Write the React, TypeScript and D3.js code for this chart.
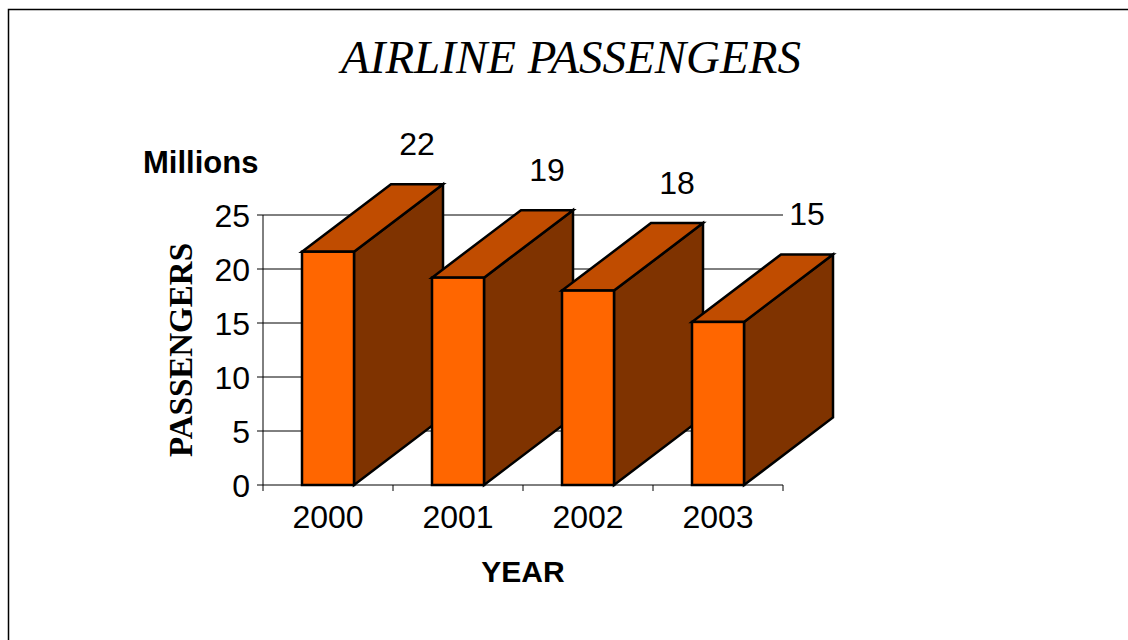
import React from "react";
import * as d3 from "d3";

const years = ["2000", "2001", "2002", "2003"];
const passengers = [21.6, 19.2, 18.0, 15.1];
const valueLabels = ["22", "19", "18", "15"];
const yTicks = [0, 5, 10, 15, 20, 25];

const W = 1128;
const H = 640;
const sans = "'Liberation Sans', Arial, sans-serif";
const serif = "'Liberation Serif', 'Times New Roman', serif";

const FRONT = "#FF6600";
const TOP = "#C04C00";
const SIDE = "#7F3300";

export default function App() {
  const x = d3.scaleBand<string>().domain(years).range([263, 783]).padding(0);
  const y = d3.scaleLinear().domain([0, 25]).range([485, 215]);
  const bw = x.bandwidth();
  const dx = 89;
  const dy = -67.5;
  const pts = (arr: [number, number][]) => arr.map((p) => p.join(",")).join(" ");

  return (
    <svg
      width={W}
      height={H}
      style={{ position: "absolute", left: 0, top: 0, background: "#fff" }}
    >
      <rect x={8.5} y={9.5} width={W} height={H} fill="#fff" stroke="#000" strokeWidth={1.5} />

      <text
        x={571}
        y={73}
        textAnchor="middle"
        fontFamily={serif}
        fontStyle="italic"
        fontSize={47}
      >
        AIRLINE PASSENGERS
      </text>

      <text x={143} y={173} fontFamily={sans} fontWeight="bold" fontSize={31}>
        Millions
      </text>

      <text
        transform="translate(192,350) rotate(-90)"
        textAnchor="middle"
        fontFamily={serif}
        fontWeight="bold"
        fontSize={33}
      >
        PASSENGERS
      </text>

      {/* gridlines */}
      {yTicks.filter((t) => t > 0).map((t) => (
        <line key={"g" + t} x1={263} x2={783} y1={y(t)} y2={y(t)} stroke="#000" strokeWidth={1} />
      ))}

      {/* y axis */}
      <line x1={263} x2={263} y1={y(0)} y2={y(25)} stroke="#000" strokeWidth={1} />
      {yTicks.map((t) => (
        <g key={"yt" + t}>
          <line x1={257} x2={263} y1={y(t)} y2={y(t)} stroke="#000" strokeWidth={1} />
          <text
            x={250}
            y={y(t) + 11.5}
            textAnchor="end"
            fontFamily={sans}
            fontSize={32}
          >
            {t}
          </text>
        </g>
      ))}

      {/* x axis */}
      <line x1={263} x2={783} y1={y(0)} y2={y(0)} stroke="#000" strokeWidth={1} />
      {[...years.map((c) => x(c) as number), 783].map((px, i) => (
        <line key={"xt" + i} x1={px} x2={px} y1={y(0)} y2={y(0) + 6} stroke="#000" strokeWidth={1} />
      ))}
      {years.map((c) => (
        <text
          key={"xl" + c}
          x={(x(c) as number) + bw / 2}
          y={528}
          textAnchor="middle"
          fontFamily={sans}
          fontSize={32}
        >
          {c}
        </text>
      ))}

      <text x={523} y={582} textAnchor="middle" fontFamily={sans} fontWeight="bold" fontSize={30}>
        YEAR
      </text>

      {/* bars */}
      {years.map((c, i) => {
        const x0 = (x(c) as number) + bw * 0.3;
        const x1 = x0 + bw * 0.4;
        const yt = y(passengers[i]);
        const yb = y(0);
        return (
          <g key={"b" + c} stroke="#000" strokeWidth={2.5} strokeLinejoin="miter">
            <polygon
              points={pts([
                [x1, yb],
                [x1, yt],
                [x1 + dx, yt + dy],
                [x1 + dx, yb + dy],
              ])}
              fill={SIDE}
            />
            <polygon
              points={pts([
                [x0, yt],
                [x1, yt],
                [x1 + dx, yt + dy],
                [x0 + dx, yt + dy],
              ])}
              fill={TOP}
            />
            <rect x={x0} y={yt} width={x1 - x0} height={yb - yt} fill={FRONT} />
          </g>
        );
      })}

      {/* value labels */}
      {years.map((c, i) => {
        const cx = (x(c) as number) + bw / 2 + dx;
        const yt = y(passengers[i]) + dy;
        return (
          <text
            key={"vl" + c}
            x={cx}
            y={yt - 29}
            textAnchor="middle"
            fontFamily={sans}
            fontSize={32}
          >
            {valueLabels[i]}
          </text>
        );
      })}
    </svg>
  );
}
